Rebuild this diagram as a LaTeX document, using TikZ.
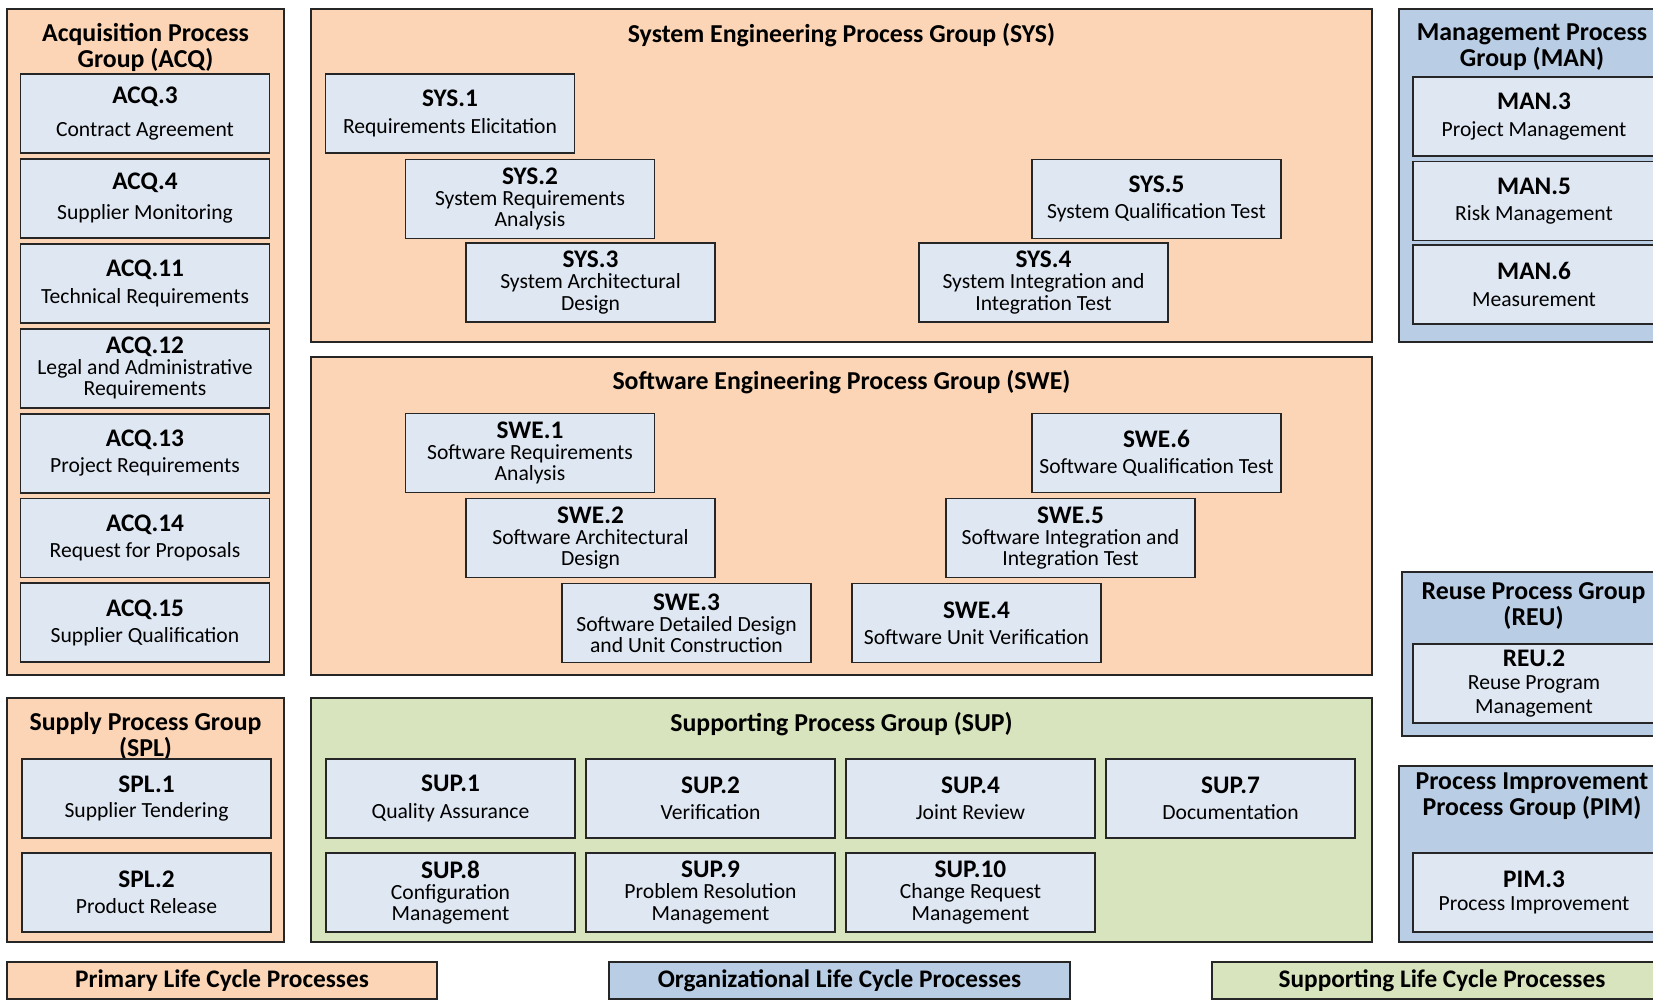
\documentclass[tikz,border=0pt]{standalone}
\usepackage{fontspec}
\setmainfont{Carlito}
\usetikzlibrary{positioning}
\definecolor{primary}{HTML}{FBD5B5}
\definecolor{organisation}{HTML}{B9CDE5}
\definecolor{supporting}{HTML}{D7E4BD}
\definecolor{process}{HTML}{DFE7F2}
\definecolor{frame}{HTML}{262626}
\newcommand{\pcode}{\fontsize{14.4}{15}\selectfont\bfseries}
\newcommand{\pbody}{\fontsize{12.3}{12}\selectfont\mdseries}

\tikzset{
	pgroup/.style={draw=frame, line width=1.1pt, inner sep=0pt, outer sep=0pt},
	procbox/.style={draw=frame, line width=1.1pt, fill=process, minimum width=4.98cm, minimum height=1.58cm, inner sep=0pt, outer sep=0pt, align=center, font=\pbody},
	grouptitle/.style={font=\fontsize{14.7}{15}\selectfont\bfseries, align=center, inner sep=0pt},
	legend/.style={draw=frame, line width=1.1pt, minimum height=0.74cm, inner sep=0pt, font=\fontsize{14.4}{15}\selectfont\bfseries},
}

\begin{document}
\begin{tikzpicture}
		\begin{scope}[x=0.02cm,y=-0.02cm]
			\useasboundingbox (0,0) rectangle (1653,1001);
			\clip (0,0) rectangle (1653,1001);
			\fill [white] (0,0) rectangle (1653,1001);
			% process groups
			\node [pgroup, fill=primary, minimum width=5.54cm, minimum height=13.32cm] (acq) at (145.5,342) {};
			\node [pgroup, fill=primary, minimum width=21.22cm, minimum height=6.66cm] (sys) at (841.5,175.5) {};
			\node [pgroup, fill=primary, minimum width=21.22cm, minimum height=6.36cm] (swe) at (841.5,516) {};
			\node [pgroup, fill=primary, minimum width=5.54cm, minimum height=4.88cm] (spl) at (145.5,820) {};
			\node [pgroup, fill=supporting, minimum width=21.22cm, minimum height=4.88cm] (sup) at (841.5,820) {};
			\node [pgroup, fill=organisation, minimum width=5.32cm, minimum height=6.66cm] (man) at (1532,175.5) {};
			\node [pgroup, fill=organisation, minimum width=5.26cm, minimum height=3.28cm] (reu) at (1533.5,654) {};
			\node [pgroup, fill=organisation, minimum width=5.32cm, minimum height=3.52cm] (pim) at (1532,854) {};
			\node [grouptitle, below=0.28cm of acq.north] (acqtitle) {Acquisition Process\\Group (ACQ)};
			\node [grouptitle, below=0.28cm of sys.north] (systitle) {System Engineering Process Group (SYS)};
			\node [grouptitle, below=0.26cm of swe.north] (swetitle) {Software Engineering Process Group (SWE)};
			\node [grouptitle, below=0.28cm of spl.north] (spltitle) {Supply Process Group\\(SPL)};
			\node [grouptitle, below=0.28cm of sup.north] (suptitle) {Supporting Process Group (SUP)};
			\node [grouptitle, below=0.28cm of man.north] (mantitle) {Management Process\\Group (MAN)};
			\node [grouptitle, below=0.2cm of reu.north] (reutitle) {Reuse Process Group\\(REU)};
			\node [grouptitle, below=0.12cm of pim.north] (pimtitle) {Process Improvement\\Process Group (PIM)};
			% acquisition
			\node [procbox] (acq3) at (145,113.5) {\pcode ACQ.3\\[7pt]Contract Agreement};
			\node [procbox] (acq4) at (145,198.4) {\pcode ACQ.4\\[5pt]Supplier Monitoring};
			\node [procbox] (acq11) at (145,283.3) {\pcode ACQ.11\\[3pt]Technical Requirements};
			\node [procbox] (acq12) at (145,368.2) {\pcode ACQ.12\\Legal and Administrative\\Requirements};
			\node [procbox] (acq13) at (145,453.1) {\pcode ACQ.13\\[3pt]Project Requirements};
			\node [procbox] (acq14) at (145,538) {\pcode ACQ.14\\[3pt]Request for Proposals};
			\node [procbox] (acq15) at (145,622.9) {\pcode ACQ.15\\[3pt]Supplier Qualification};
			% supply
			\node [procbox] (spl1) at (146.5,798.5) {\pcode SPL.1\\[2pt]Supplier Tendering};
			\node [procbox] (spl2) at (146.5,892.5) {\pcode SPL.2\\[3pt]Product Release};
			% system engineering
			\node [procbox] (sys1) at (450,113.5) {\pcode SYS.1\\[3pt]Requirements Elicitation};
			\node [procbox] (sys2) at (530,199) {\pcode SYS.2\\System Requirements\\Analysis};
			\node [procbox] (sys3) at (590.5,282.5) {\pcode SYS.3\\System Architectural\\Design};
			\node [procbox] (sys4) at (1043.5,282.5) {\pcode SYS.4\\System Integration and\\Integration Test};
			\node [procbox] (sys5) at (1156.5,199) {\pcode SYS.5\\[3pt]System Qualification Test};
			% software engineering
			\node [procbox] (swe1) at (530,453) {\pcode SWE.1\\Software Requirements\\Analysis};
			\node [procbox] (swe2) at (590.5,538) {\pcode SWE.2\\Software Architectural\\Design};
			\node [procbox] (swe3) at (686.5,623) {\pcode SWE.3\\Software Detailed Design\\and Unit Construction};
			\node [procbox] (swe4) at (976.5,623) {\pcode SWE.4\\[3pt]Software Unit Verification};
			\node [procbox] (swe5) at (1070.5,538) {\pcode SWE.5\\Software Integration and\\Integration Test};
			\node [procbox] (swe6) at (1156.5,453) {\pcode SWE.6\\[3pt]Software Qualification Test};
			% supporting
			\node [procbox] (sup1) at (450.5,798.5) {\pcode SUP.1\\[3pt]Quality Assurance};
			\node [procbox] (sup2) at (710.5,798.5) {\pcode SUP.2\\[3pt]Verification};
			\node [procbox] (sup4) at (970.5,798.5) {\pcode SUP.4\\[3pt]Joint Review};
			\node [procbox] (sup7) at (1230.5,798.5) {\pcode SUP.7\\[3pt]Documentation};
			\node [procbox] (sup8) at (450.5,892.5) {\pcode SUP.8\\Configuration\\Management};
			\node [procbox] (sup9) at (710.5,892.5) {\pcode SUP.9\\Problem Resolution\\Management};
			\node [procbox] (sup10) at (970.5,892.5) {\pcode SUP.10\\Change Request\\Management};
			% organizational
			\node [procbox, minimum width=4.84cm] (man3) at (1534,116.5) {\pcode MAN.3\\[3pt]Project Management};
			\node [procbox, minimum width=4.84cm] (man5) at (1534,201) {\pcode MAN.5\\[3pt]Risk Management};
			\node [procbox, minimum width=4.84cm] (man6) at (1534,284.5) {\pcode MAN.6\\[3pt]Measurement};
			\node [procbox, minimum width=4.84cm] (reu2) at (1534,683.5) {\pcode REU.2\\[1pt]Reuse Program\\[2pt]Management};
			\node [procbox, minimum width=4.84cm] (pim3) at (1534,892.5) {\pcode PIM.3\\[1pt]Process Improvement};
			% legend
			\node [legend, fill=primary, minimum width=8.6cm] (primlegend) at (222,980.5) {Primary Life Cycle Processes};
			\node [legend, fill=organisation, minimum width=9.22cm] (orglegend) at (839.5,980.5) {Organizational Life Cycle Processes};
			\node [legend, fill=supporting, minimum width=9.2cm] (supplegend) at (1442,980.5) {Supporting Life Cycle Processes};
		\end{scope}
	\end{tikzpicture}
\end{document}
